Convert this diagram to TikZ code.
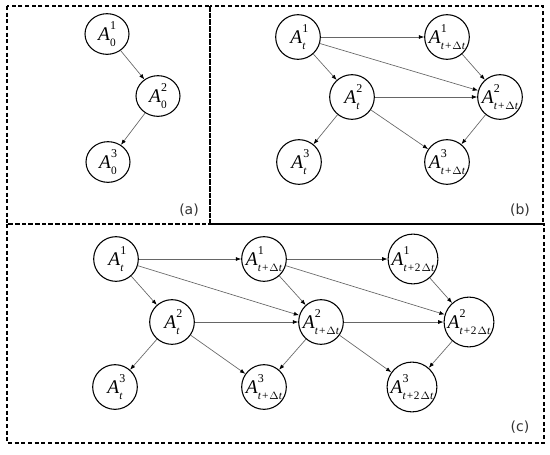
\documentclass[tikz,border=0pt]{standalone}
\usepackage{fontspec}
\setmainfont{Liberation Serif}
\newfontfamily\labelfont{DejaVu Sans}
\usetikzlibrary{arrows.meta,shapes.geometric}
% A with stacked super- and subscript
\newcommand{\Ax}[2]{\hbox{{\fontsize{14.5}{15}\selectfont\itshape A}\kern0.2pt
  \rlap{\raise8.5pt\hbox{\fontsize{9}{9}\selectfont #1}}\lower4.5pt\hbox{\fontsize{8.5}{9}\selectfont #2}}}
\newcommand{\ti}{\textit{t}}
\newcommand{\sdt}{\ti\kern0.6pt+\kern0.6pt$\Delta$\ti}
\newcommand{\sddt}{\ti\kern0.6pt+\kern0.6pt2\kern0.8pt$\Delta$\ti}
\tikzset{
  state/.style={circle,draw,line width=0.8pt,minimum size=33.5pt,inner sep=0pt},
  statea/.style={ellipse,draw,line width=0.8pt,minimum width=33pt,minimum height=30.5pt,inner sep=0pt},
  edge/.style={draw=black!60,line width=0.5pt,-{Latex[length=4pt,width=3pt,color=black]}},
  panel/.style={dash pattern=on 3pt off 2pt,line width=0.8pt},
  plabel/.style={font=\labelfont\fontsize{10.5}{12}\selectfont,text=black!80}
}
\begin{document}
\begin{tikzpicture}[x=0.75pt,y=-0.75pt]
\useasboundingbox (0,0) rectangle (550,454);
% panels
\draw[panel] (7,6) rectangle (210,224);
\draw[panel] (210,6) rectangle (543,224);
\draw[panel] (7,224) rectangle (544,443);
\node[plabel] (la) at (189,210) {(a)};
\node[plabel] (lb) at (520,210) {(b)};
\node[plabel] (lc) at (520,427) {(c)};
% panel (a)
\node[statea] (a1) at (107,34) {\Ax{1}{0}};
\node[statea] (a2) at (158,96) {\Ax{2}{0}};
\node[statea] (a3) at (108,162) {\Ax{3}{0}};
\draw[edge] (a1) -- (a2);
\draw[edge] (a2) -- (a3);
% panel (b)
\node[state] (b11) at (298,37) {\Ax{1}{\ti}};
\node[state] (b12) at (447,37) {\Ax{1}{\sdt}};
\node[state] (b21) at (352,97) {\Ax{2}{\ti}};
\node[state] (b22) at (500,97) {\Ax{2}{\sdt}};
\node[state] (b31) at (299,162) {\Ax{3}{\ti}};
\node[state] (b32) at (447,162) {\Ax{3}{\sdt}};
\draw[edge] (b11) -- (b12);
\draw[edge] (b11) -- (b21);
\draw[edge] (b11) -- (b22);
\draw[edge] (b12) -- (b22);
\draw[edge] (b21) -- (b22);
\draw[edge] (b21) -- (b31);
\draw[edge] (b21) -- (b32);
\draw[edge] (b22) -- (b32);
% panel (c)
\node[state] (c11) at (116,259) {\Ax{1}{\ti}};
\node[state] (c12) at (264,259) {\Ax{1}{\sdt}};
\node[state] (c13) at (413,259) {\Ax{1}{\sddt}};
\node[state] (c21) at (172,322) {\Ax{2}{\ti}};
\node[state] (c22) at (321,322) {\Ax{2}{\sdt}};
\node[state] (c23) at (469,322) {\Ax{2}{\sddt}};
\node[state] (c31) at (115,387) {\Ax{3}{\ti}};
\node[state] (c32) at (264,387) {\Ax{3}{\sdt}};
\node[state] (c33) at (412,387) {\Ax{3}{\sddt}};
\draw[edge] (c11) -- (c12);
\draw[edge] (c11) -- (c21);
\draw[edge] (c11) -- (c22);
\draw[edge] (c12) -- (c13);
\draw[edge] (c12) -- (c22);
\draw[edge] (c12) -- (c23);
\draw[edge] (c13) -- (c23);
\draw[edge] (c21) -- (c22);
\draw[edge] (c21) -- (c31);
\draw[edge] (c21) -- (c32);
\draw[edge] (c22) -- (c23);
\draw[edge] (c22) -- (c32);
\draw[edge] (c22) -- (c33);
\draw[edge] (c23) -- (c33);
\end{tikzpicture}
\end{document}
